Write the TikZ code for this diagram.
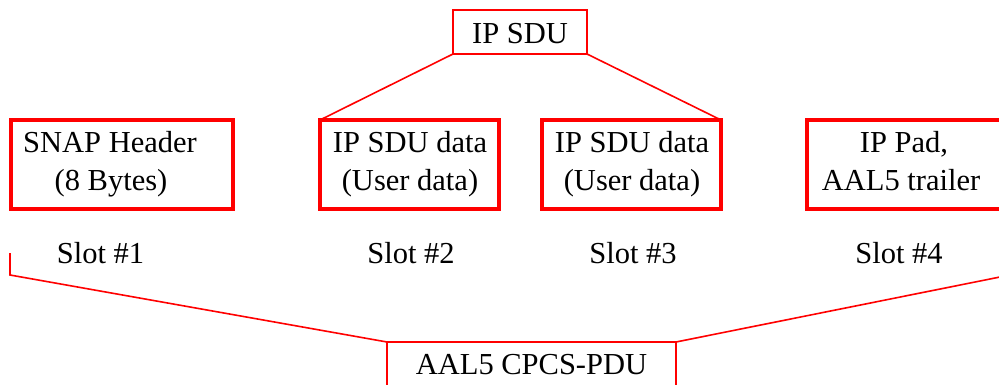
\documentclass[tikz,border=0pt]{standalone}
\usepackage{fontspec}
\setmainfont{Liberation Serif}
\begin{document}
\begin{tikzpicture}[x=1pt,y=-1pt,
  every node/.style={font=\fontsize{30.5}{37}\selectfont},
  thickbox/.style={draw=pdured, line width=3.2pt},
  thinbox/.style={draw=pdured, line width=1.6pt},
  link/.style={draw=pdured, line width=1.6pt},
  txt/.style={inner sep=0pt, anchor=base}]
\definecolor{pdured}{RGB}{255,0,0}
\useasboundingbox (0,0) rectangle (999,385);
\clip (0,0) rectangle (999,385);

% top-level SDU
\draw[thinbox] (453,10) rectangle (587,54);
\coordinate (sduBL) at (453,54);
\coordinate (sduBR) at (587,54);
\node[txt] (sdu) at (520,44) {IP SDU};

% four slot boxes
\draw[thickbox] (11,120) rectangle (233,209);
\draw[thickbox] (320,120) rectangle (499,209);
\draw[thickbox] (542,120) rectangle (721,209);
\draw[thickbox] (807,120) rectangle (1020,209);
\coordinate (twoTL) at (320,120);
\coordinate (threeTR) at (721,120);

\node[txt] (snapA) at (110,153) {SNAP Header};
\node[txt] (snapB) at (111,190) {(8 Bytes)};
\node[txt] (dataA) at (410,153) {IP SDU data};
\node[txt] (dataB) at (410,190) {(User data)};
\node[txt] (datbA) at (632,153) {IP SDU data};
\node[txt] (datbB) at (632,190) {(User data)};
\node[txt] (padA) at (904,153) {IP Pad,};
\node[txt] (padB) at (901,190) {AAL5 trailer};

% slot labels
\node[txt] (s1) at (100.5,263) {Slot \#1};
\node[txt] (s2) at (411,263) {Slot \#2};
\node[txt] (s3) at (633,263) {Slot \#3};
\node[txt] (s4) at (899,263) {Slot \#4};

% SDU split into the two data slots
\draw[link] (sduBL) -- (twoTL);
\draw[link] (sduBR) -- (threeTR);

% bottom PDU
\draw[thinbox] (387,342) rectangle (676,400);
\coordinate (pduTL) at (387,342);
\coordinate (pduTR) at (676,342);
\node[txt] (pdu) at (531.5,374) {AAL5 CPCS-PDU};

% brace lines gathering all slots
\coordinate (leftUp) at (10,253);
\coordinate (leftLow) at (10,275);
\coordinate (rightLow) at (1010,275);
\coordinate (rightUp) at (1010,253);
\draw[link] (leftUp) -- (leftLow) -- (pduTL);
\draw[link] (rightUp) -- (rightLow) -- (pduTR);
\end{tikzpicture}
\end{document}
